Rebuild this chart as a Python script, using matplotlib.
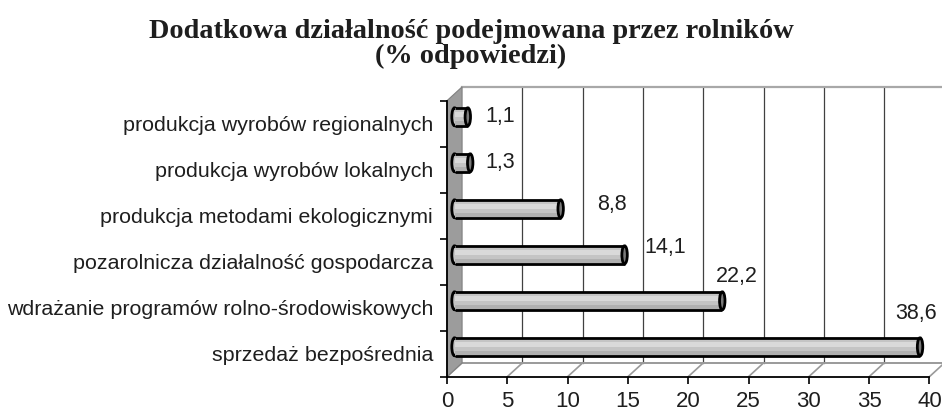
import matplotlib
matplotlib.use('Agg')
import matplotlib.pyplot as plt
from matplotlib.patches import Polygon, Rectangle, Ellipse

# data (bottom -> top)
categories = [
    'sprzedaż bezpośrednia',
    'wdrażanie programów rolno-środowiskowych',
    'pozarolnicza działalność gospodarcza',
    'produkcja metodami ekologicznymi',
    'produkcja wyrobów lokalnych',
    'produkcja wyrobów regionalnych',
]
values = [38.6, 22.2, 14.1, 8.8, 1.3, 1.1]
x_ticks = [0, 5, 10, 15, 20, 25, 30, 35, 40]

# where Excel dropped the value labels (pixels from bar end)
label_offsets = [(-4, 33), (15, 24), (41, 7), (51, 4), (30, 0), (32, 0)]

title = 'Dodatkowa działalność podejmowana przez rolników\n(% odpowiedzi)'

FONT = 'Liberation Sans'
TXT = '#1e1e1e'
DX, DY = 1.25, 0.3   # depth of the fake 3d box, data units
BAR_H = 0.39

fig = plt.figure(figsize=(9.42, 4.11), dpi=100)
ax = fig.add_axes([447 / 942, (411 - 376.7) / 411, (929.4 - 447) / 942, 276 / 411])
ax.set_xlim(0, 40)
ax.set_ylim(0, 6)
n = len(categories)

# back wall + gridlines
ax.add_patch(Rectangle((DX, DY), 40, n, facecolor='white', edgecolor='none', zorder=0, clip_on=False))
for v in x_ticks[1:]:
    ax.plot([v + DX, v + DX], [DY, n + DY], color='#404040', lw=0.9, zorder=1, clip_on=False)
ax.plot([DX, 40 + DX], [n + DY, n + DY], color='#a8a8a8', lw=1.6, zorder=1, clip_on=False)

# floor
ax.plot([DX, 40 + DX], [DY, DY], color='#9a9a9a', lw=1.4, zorder=1, clip_on=False)
for v in x_ticks:
    ax.plot([v, v + DX], [0, DY], color='#9a9a9a', lw=1.2, zorder=1, clip_on=False)

# left wall
ax.add_patch(Polygon([(0, 0), (DX, DY), (DX, n + DY), (0, n)], closed=True,
                     facecolor='#9c9c9c', edgecolor='#808080', lw=0.8, zorder=1.5, clip_on=False))

# bars (sit halfway into the depth)
left = DX / 2
ys = [i + 0.5 + DY / 2 for i in range(n)]
for y, v in zip(ys, values):
    ax.add_patch(Ellipse((left, y), 0.45, BAR_H, facecolor='#c4c4c4', edgecolor='black', lw=2, zorder=3))
ax.barh(ys, values, left=left, height=BAR_H, color='#c4c4c4', edgecolor='none', zorder=3.1)
ax.barh([y + 0.05 for y in ys], values, left=left, height=0.13, color='#d9d9d9', edgecolor='none', zorder=3.2)
ax.barh([y - 0.13 for y in ys], values, left=left, height=0.08, color='#b0b0b0', edgecolor='none', zorder=3.2)
for y, v in zip(ys, values):
    ax.plot([left, left + v], [y + BAR_H / 2, y + BAR_H / 2], color='black', lw=2, zorder=3.3, solid_capstyle='butt')
    ax.plot([left, left + v], [y - BAR_H / 2, y - BAR_H / 2], color='black', lw=2, zorder=3.3, solid_capstyle='butt')
    ax.add_patch(Ellipse((left + v, y), 0.45, BAR_H, facecolor='#7a7a7a', edgecolor='black', lw=2, zorder=3.4))

# value labels
for y, v, (ox, oy) in zip(ys, values, label_offsets):
    ax.annotate(f'{v:.1f}'.replace('.', ','), (left + v, y), xytext=(ox, oy), textcoords='offset pixels',
                ha='center', va='center', fontsize=15.5, family=FONT, color=TXT, zorder=5)

# axes
for s in ['top', 'right']:
    ax.spines[s].set_visible(False)
for s in ['left', 'bottom']:
    ax.spines[s].set_color('black')
    ax.spines[s].set_linewidth(1.3)
    ax.spines[s].set_zorder(2)
ax.set_xticks(x_ticks)
ax.set_xticklabels([str(t) for t in x_ticks], fontsize=16, family=FONT, color=TXT)
ax.tick_params(axis='x', length=5, width=1.2, pad=5, color='black')
ax.set_yticks([i + 0.5 for i in range(n)])
ax.set_yticklabels(categories, fontsize=15.4, family=FONT, color=TXT)
ax.set_yticks(range(n + 1), minor=True)
ax.tick_params(axis='y', which='major', length=0, pad=10)
ax.tick_params(axis='y', which='minor', length=5, width=1.2, color='black')

fig.text(471 / 942, 1 - 44 / 411, title, ha='center', va='center', fontsize=20.3,
         family='Liberation Serif', fontweight='bold', color=TXT, linespacing=0.95)

fig.savefig('out.png', dpi=100)
